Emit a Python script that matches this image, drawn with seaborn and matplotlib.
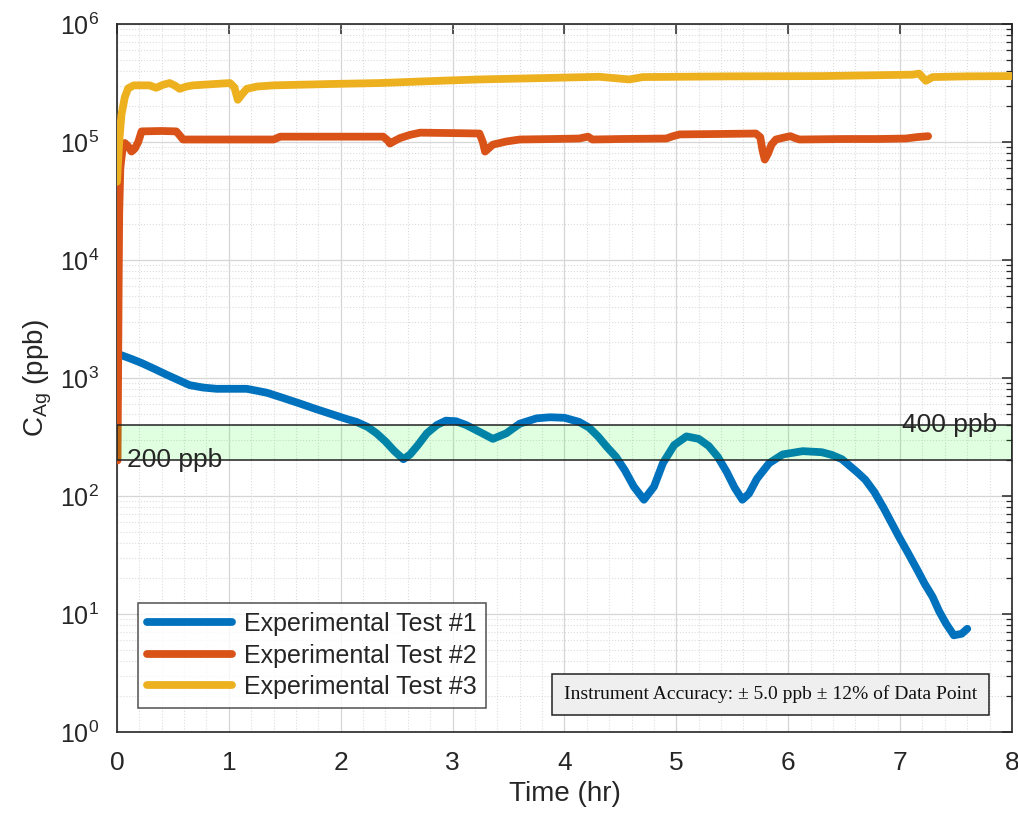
import matplotlib
matplotlib.use('Agg')
import matplotlib.pyplot as plt
import numpy as np
import pandas as pd
import seaborn as sns
from matplotlib.ticker import LogLocator, MultipleLocator, NullFormatter, FixedLocator

# Experimental Test #1
t1 = [0.04, 0.13, 0.22, 0.33, 0.44, 0.55, 0.65, 0.77, 0.89, 1.02, 1.16, 1.25, 1.34, 1.48,
      1.63, 1.78, 1.93, 2.05, 2.14, 2.24, 2.32, 2.40, 2.48, 2.56, 2.62, 2.69, 2.77, 2.86,
      2.94, 3.03, 3.12, 3.24, 3.36, 3.48, 3.60, 3.75, 3.87, 4.00, 4.13, 4.22, 4.30, 4.38,
      4.46, 4.54, 4.62, 4.71, 4.80, 4.88, 4.98, 5.09, 5.20, 5.29, 5.37, 5.45, 5.52, 5.59,
      5.65, 5.72, 5.83, 5.95, 6.13, 6.30, 6.39, 6.48, 6.55, 6.62, 6.69, 6.77, 6.85, 6.92,
      6.99, 7.07, 7.15, 7.22, 7.29, 7.35, 7.41, 7.48, 7.55, 7.60]
c1 = [1560, 1450, 1340, 1200, 1070, 960, 870, 830, 810, 810, 810, 780, 750, 680,
      610, 545, 490, 450, 425, 385, 340, 290, 240, 205, 225, 270, 340, 400,
      435, 430, 400, 350, 305, 340, 410, 455, 465, 460, 425, 380, 320, 260,
      215, 165, 120, 93, 120, 190, 270, 320, 305, 265, 215, 160, 118, 93,
      105, 140, 190, 225, 240, 235, 223, 205, 180, 158, 137, 108, 80, 60,
      45, 33, 24, 18, 14, 10.5, 8.3, 6.6, 6.8, 7.5]

# Experimental Test #2
t2 = [0.005, 0.01, 0.015, 0.02, 0.03, 0.05, 0.07, 0.10, 0.13, 0.16, 0.19, 0.22, 0.40,
      0.53, 0.56, 0.59, 0.80, 1.10, 1.40, 1.46, 1.80, 2.10, 2.38, 2.42, 2.44, 2.48,
      2.53, 2.62, 2.71, 3.00, 3.24, 3.27, 3.29, 3.32, 3.36, 3.48, 3.60, 3.90, 4.13,
      4.21, 4.25, 4.50, 4.91, 4.97, 5.03, 5.40, 5.71, 5.75, 5.77, 5.79, 5.82, 5.85,
      5.89, 5.96, 6.02, 6.06, 6.10, 6.50, 6.80, 7.05, 7.15, 7.25]
c2 = [200, 1000, 6000, 25000, 60000, 88000, 98000, 92000, 83000, 88000, 100000, 123000, 124000,
      123000, 114000, 105000, 105000, 105000, 105000, 111000, 111000, 111000, 111000, 103000, 97000, 102000,
      108000, 115000, 120000, 119000, 118000, 100000, 83000, 88000, 95000, 101000, 105000, 106000, 107000,
      111000, 105000, 106000, 107000, 112000, 116000, 117000, 118000, 110000, 85000, 71000, 80000, 95000,
      105000, 109000, 112000, 108000, 105000, 106000, 106000, 107000, 110000, 112000]

# Experimental Test #3
t3 = [0.0, 0.02, 0.04, 0.07, 0.10, 0.15, 0.29, 0.35, 0.41, 0.47, 0.52, 0.56, 0.62, 0.68,
      1.01, 1.05, 1.08, 1.12, 1.16, 1.25, 1.40, 1.90, 2.35, 2.80, 3.24, 3.80, 4.31,
      4.58, 4.70, 5.50, 6.30, 7.11, 7.17, 7.23, 7.29, 7.60, 8.0]
c3 = [46000, 100000, 170000, 240000, 285000, 302000, 302000, 288000, 305000, 316000, 300000, 282000, 295000, 302000,
      316000, 290000, 228000, 255000, 282000, 295000, 302000, 310000, 316000, 328000, 339000, 348000, 357000,
      339000, 355000, 360000, 362000, 372000, 380000, 330000, 355000, 360000, 362000]

labels = ["Experimental Test #1", "Experimental Test #2", "Experimental Test #3"]
colors = ["#0072BD", "#D95319", "#EDB120"]
y_ticks = [1, 10, 100, 1000, 10000, 100000, 1000000]

band_low, band_high = 200, 400
band_labels = ["200 ppb", "400 ppb"]
note = "Instrument Accuracy: \u00b1 5.0 ppb \u00b1 12% of Data Point"

sns.set_theme(style="white")
plt.rcParams['font.family'] = ['Liberation Sans', 'DejaVu Sans']
plt.rcParams['mathtext.fontset'] = 'custom'
plt.rcParams['mathtext.rm'] = 'Liberation Sans'

df = pd.concat([
    pd.DataFrame({"time": t, "conc": c, "test": lab})
    for t, c, lab in zip([t1, t2, t3], [c1, c2, c3], labels)
], ignore_index=True)

fig = plt.figure(figsize=(10.18, 8.19), dpi=100)
fig.patch.set_facecolor("#fff")
ax = fig.add_axes([0.1149, 0.1062, 0.8792, 0.8645])

sns.lineplot(data=df, x="time", y="conc", hue="test", palette=dict(zip(labels, colors)),
             estimator=None, sort=False, linewidth=5.6, ax=ax, zorder=3)

ax.set_yscale("log")
ax.set_xlim(0, 8)
ax.set_ylim(1, 1e6)

# acceptance band, drawn over the lines like the original
ax.axhspan(band_low, band_high, facecolor=(0, 1, 0, 0.12), edgecolor="#222", linewidth=1.1, zorder=5)
ax.text(0.09, band_low, band_labels[0], ha="left", va="center", fontsize=19, color="#262626", zorder=6)
ax.text(7.87, band_high, band_labels[1], ha="right", va="center", fontsize=19, color="#262626", zorder=6)

ax.xaxis.set_major_locator(MultipleLocator(1))
ax.xaxis.set_minor_locator(MultipleLocator(0.2))
ax.yaxis.set_major_locator(FixedLocator(y_ticks))
ax.yaxis.set_minor_locator(LogLocator(base=10, subs=np.arange(2, 10), numticks=20))
ax.yaxis.set_minor_formatter(NullFormatter())

ax.grid(which="major", color="#d6d6d6", linewidth=0.9, zorder=0)
ax.grid(which="minor", color="#dcdcdc", linewidth=0.8, linestyle=":", zorder=0)
ax.set_axisbelow(True)

ax.tick_params(which="both", direction="in", top=True, right=True, colors="#262626",
               labelcolor="#262626")
ax.tick_params(which="major", length=7, width=1.1)
ax.tick_params(axis="x", which="major", labelsize=19, pad=14)
ax.tick_params(axis="y", which="major", labelsize=18, pad=13)
ax.tick_params(which="minor", length=4, width=0.9)
ax.tick_params(axis="x", which="minor", length=0)
for s in ax.spines.values():
    s.set_color("#262626")
    s.set_linewidth(1.2)

ax.set_xlabel("Time (hr)", fontsize=20, color="#262626", labelpad=4)
ax.set_ylabel(r"C$_\mathregular{Ag}$ (ppb)", fontsize=20, color="#262626", labelpad=4)

leg = ax.legend(loc="lower left", bbox_to_anchor=(0.0235, 0.034), borderaxespad=0,
                frameon=True, fancybox=False, edgecolor="#262626", fontsize=18,
                handlelength=3.4, labelspacing=0.3, borderpad=0.35, handletextpad=0.5)
leg.get_frame().set_linewidth(1.1)
for ln in leg.get_lines():
    ln.set_linewidth(5.6)
for tx in leg.get_texts():
    tx.set_color("#262626")

ax.text(0.730, 0.053, note, transform=ax.transAxes, ha="center", va="center",
        fontsize=14, family=["Liberation Serif", "DejaVu Serif"], color="#111",
        bbox=dict(boxstyle="square,pad=0.62", facecolor="#efefef", edgecolor="#222", linewidth=1.1),
        zorder=7)

fig.savefig("out.png", dpi=100, facecolor="#fff")
